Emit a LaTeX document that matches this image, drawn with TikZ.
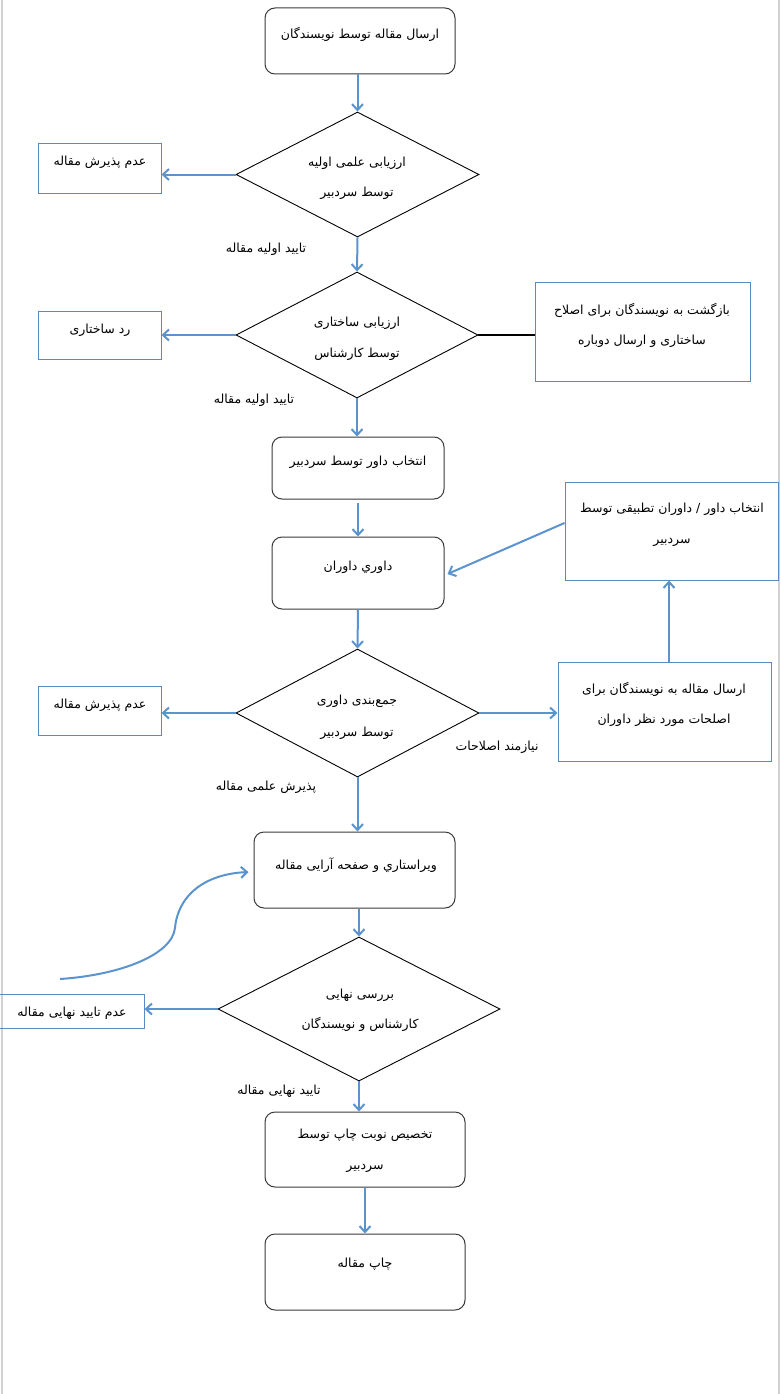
\documentclass[tikz,border=0pt]{standalone}
\usepackage{fontspec}
\usetikzlibrary{arrows.meta,shapes.geometric}
\TeXXeTstate=1
\newfontfamily\fa[Script=Arabic]{DejaVu Sans}
\definecolor{arrblue}{HTML}{5B93CE}
\definecolor{boxblue}{HTML}{5A8AC0}
\definecolor{rgray}{HTML}{3A3A3A}
\newcommand{\R}[1]{\beginR #1\endR}
\begin{document}
\begin{tikzpicture}[x=1pt,y=-1pt,
  rbox/.style={draw=rgray,line width=1pt,rounded corners=10pt,inner sep=0pt},
  sbox/.style={draw=boxblue,line width=1pt,inner sep=0pt},
  dia/.style={draw=black,line width=0.9pt,diamond,inner sep=0pt},
  txt/.style={font=\fa\fontsize{12.5}{14}\selectfont,inner sep=0pt,align=center},
  arr/.style={draw=arrblue,line width=2pt,-{Straight Barb[length=6pt,width=11pt]}},
  blk/.style={draw=black,line width=2pt}]
\useasboundingbox (0,0) rectangle (780,1394);
\fill[white] (0,0) rectangle (780,1394);
\draw[black!18,line width=2pt] (1.5,0) -- (1.5,1394);
\draw[black!18,line width=2pt] (779,0) -- (779,1394);

% rounded boxes
\node[rbox,minimum width=190pt,minimum height=66pt] (b1) at (360,41) {};
\node[rbox,minimum width=172pt,minimum height=62pt] (b5) at (358,468) {};
\node[rbox,minimum width=172pt,minimum height=72pt] (b6) at (358,573) {};
\node[rbox,minimum width=201pt,minimum height=76pt] (b9) at (354.5,870) {};
\node[rbox,minimum width=200pt,minimum height=75pt] (b11) at (365,1149.5) {};
\node[rbox,minimum width=200pt,minimum height=76pt] (b12) at (365,1272) {};

% diamonds
\node[dia,minimum width=243pt,minimum height=125pt] (d1) at (357.5,174.5) {};
\node[dia,minimum width=242pt,minimum height=126pt] (d2) at (357,335) {};
\node[dia,minimum width=243pt,minimum height=128pt] (d3) at (357.5,713) {};
\node[dia,minimum width=282pt,minimum height=144pt] (d4) at (359,1009) {};

% square boxes
\node[sbox,minimum width=123pt,minimum height=50pt] (s1) at (99.5,168) {};
\node[sbox,minimum width=123pt,minimum height=48pt] (s2) at (99.5,335) {};
\node[sbox,minimum width=215pt,minimum height=99pt] (s3) at (642.5,331.5) {};
\node[sbox,minimum width=213pt,minimum height=98pt] (s4) at (671.5,531) {};
\node[sbox,minimum width=123pt,minimum height=49pt] (s5) at (99.5,710.5) {};
\node[sbox,minimum width=213pt,minimum height=99pt] (s6) at (664.5,711.5) {};
\node[sbox,minimum width=145pt,minimum height=34pt] (s7) at (71.5,1011) {};

% texts
\node[txt] (t1) at (360,34) {\R{ارسال مقاله  توسط نویسندگان}};
\node[txt] (t2a) at (357,163) {\R{ارزیابی علمی اولیه}};
\node[txt] (t2b) at (357,193) {\R{توسط سردبیر}};
\node[txt] (t3) at (100,162) {\R{عدم پذیرش مقاله}};
\node[txt] (l1) at (266,249) {\R{تایید اولیه مقاله}};
\node[txt] (t4a) at (357,323) {\R{ارزیابی ساختاری}};
\node[txt] (t4b) at (357,354) {\R{توسط کارشناس}};
\node[txt] (t5) at (100,330) {\R{رد ساختاری}};
\node[txt] (t6a) at (642,310) {\R{بازگشت به نویسندگان برای اصلاح}};
\node[txt] (t6b) at (642,341) {\R{ساختاری و ارسال دوباره}};
\node[txt] (l2) at (254,400) {\R{تایید اولیه مقاله}};
\node[txt] (t7) at (358,462) {\R{انتخاب داور توسط سردبیر}};
\node[txt] (t8) at (358,567) {\R{داوري داوران}};
\node[txt] (t9a) at (672,509) {\R{انتخاب داور / داوران تطبیقی توسط}};
\node[txt] (t9b) at (672,542) {\R{سردبیر}};
\node[txt] (t10a) at (357,701) {\R{جمع‌بندی داوری}};
\node[txt] (t10b) at (357,733) {\R{توسط سردبیر}};
\node[txt] (t11) at (100,705) {\R{عدم پذیرش مقاله}};
\node[txt] (t12a) at (664,689) {\R{ارسال مقاله به نویسندگان برای}};
\node[txt] (t12b) at (664,720) {\R{اصلحات مورد نظر داوران}};
\node[txt] (l3) at (497,747) {\R{نیازمند اصلاحات}};
\node[txt] (l4) at (266,787) {\R{پذیرش علمی مقاله}};
\node[txt] (t13) at (356,865) {\R{ويراستاري و صفحه آرایی مقاله}};
\node[txt] (t14a) at (360,995) {\R{بررسی نهایی}};
\node[txt] (t14b) at (360,1024) {\R{کارشناس و نویسندگان}};
\node[txt] (t15) at (72,1013) {\R{عدم تایید نهایی مقاله}};
\node[txt] (l5) at (279,1091) {\R{تایید نهایی مقاله}};
\node[txt] (t16a) at (365,1135) {\R{تخصیص نوبت چاپ توسط}};
\node[txt] (t16b) at (365,1168) {\R{سردبیر}};
\node[txt] (t17) at (365,1264) {\R{چاپ مقاله}};

% connectors
\draw[arr] (d1.north |- b1.south) -- (d1.north);
\draw[arr] (d1.west) -- (d1.west -| s1.east);
\draw[arr] (d1.south) -- (d2.north);
\draw[arr] (d2.west) -- (d2.west -| s2.east);
\draw[blk] (d2.east) -- (d2.east -| s3.west);
\draw[arr] (d2.south) -- (d2.south |- b5.north);
\draw[arr] ([yshift=-3pt]b5.south) -- (b6.north);
\draw[arr] ([yshift=8pt]s4.west) -- ([xshift=3pt,yshift=-1pt]b6.east);
\draw[arr] (b6.south) -- (d3.north);
\draw[arr] (d3.west) -- (d3.west -| s5.east);
\draw[arr] (d3.east) -- (d3.east -| s6.west);
\draw[arr] ([xshift=4.5pt]s6.north) -- ([xshift=-2.5pt]s4.south);
\draw[arr] (d3.south) -- (d3.south |- b9.north);
\coordinate (c0) at (60,979);
\draw[arr] (c0) .. controls (120,975) and (172,955) .. (175,928)
  .. controls (178,895) and (205,874) .. ([xshift=-5pt,yshift=-2pt]b9.west);
\draw[arr] (d4.north |- b9.south) -- (d4.north);
\draw[arr] (d4.west) -- (d4.west -| s7.east);
\draw[arr] (d4.south) -- (d4.south |- b11.north);
\draw[arr] (b11.south) -- (b12.north);
\end{tikzpicture}
\end{document}
